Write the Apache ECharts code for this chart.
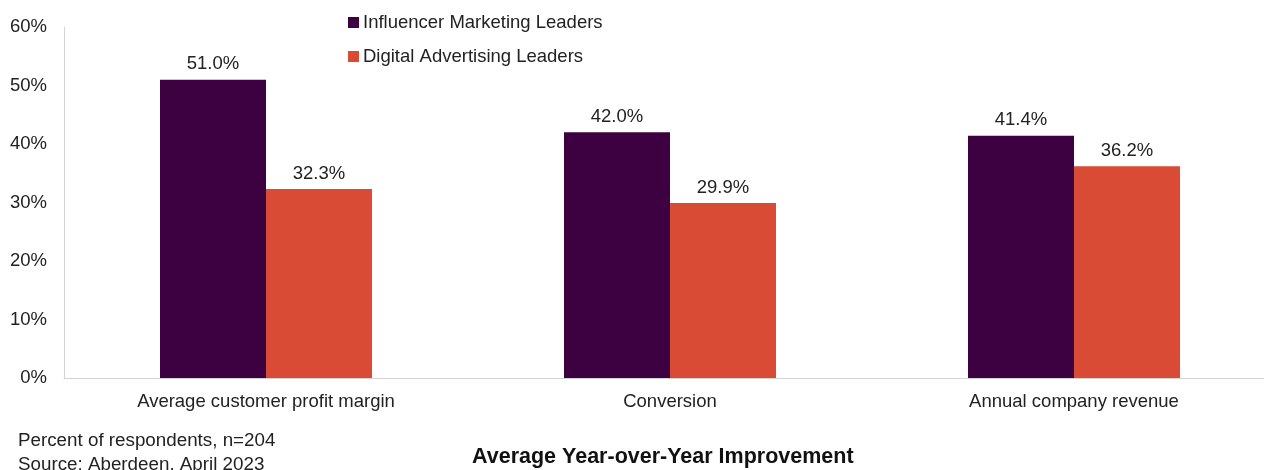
<!DOCTYPE html>
<html>
<head>
<meta charset="utf-8">
<script src="https://cdn.jsdelivr.net/npm/echarts@6/dist/echarts.min.js"></script>
<style>
  html, body { margin: 0; padding: 0; background: #fff; }
  #chart { width: 1264px; height: 470px; }
</style>
</head>
<body>
<div id="chart"></div>
<script>
// data
var categories = ['Average customer profit margin', 'Conversion', 'Annual company revenue']
var influencerData = [51.0, 42.0, 41.4]
var digitalData = [32.3, 29.9, 36.2]
var seriesNames = ['Influencer Marketing Leaders', 'Digital Advertising Leaders']

var myChart = echarts.init(document.getElementById('chart'))
var font = 'Liberation Sans, Arial, sans-serif'
var fs = 18.5

var option = {
    animation: false,
    textStyle: { fontFamily: font },
    legend: {
        orient: 'vertical',
        left: 343,
        top: 8,
        itemWidth: 11,
        itemHeight: 11,
        itemGap: 15,
        icon: 'rect',
        textStyle: { fontSize: fs, color: '#222', fontFamily: font, padding: [0, 0, 0, -1] },
        data: seriesNames,
    },
    graphic: [
        {
            type: 'text',
            left: 18,
            top: 431,
            style: { text: 'Percent of respondents, n=204', fontSize: 18.8, fill: '#222', fontFamily: font },
        },
        {
            type: 'text',
            left: 18,
            top: 455,
            style: { text: 'Source: Aberdeen, April 2023', fontSize: 18.8, fill: '#222', fontFamily: font },
        },
        {
            type: 'text',
            left: 472,
            top: 446,
            style: { text: 'Average Year-over-Year Improvement', fontSize: 21.5, fontWeight: 'bold', fill: '#111', fontFamily: font },
        },
    ],
    grid: {
        top: 27,
        left: 64,
        width: 1212,
        bottom: 92,
        outerBoundsMode: 'none',
        containLabel: false,
    },
    xAxis: {
        type: 'category',
        data: categories,
        axisTick: { show: false },
        axisLine: { lineStyle: { color: '#d4d4d4', width: 1 } },
        axisLabel: { fontSize: fs, color: '#222', margin: 14, fontFamily: font },
    },
    yAxis: {
        type: 'value',
        min: 0,
        max: 60,
        interval: 10,
        axisLine: { show: true, lineStyle: { color: '#d4d4d4', width: 1 } },
        axisTick: { show: false },
        splitLine: { show: false },
        axisLabel: {
            fontSize: fs,
            color: '#222',
            margin: 17,
            fontFamily: font,
            formatter: '{value}%',
        },
    },
    series: [
        {
            name: seriesNames[0],
            type: 'bar',
            barWidth: 106,
            barGap: '0%',
            itemStyle: { color: '#3d0040' },
            label: {
                show: true,
                position: 'top',
                distance: 6,
                fontSize: fs,
                color: '#222',
                fontFamily: font,
                formatter: function(p) { return p.value.toFixed(1) + '%' },
            },
            data: influencerData,
        },
        {
            name: seriesNames[1],
            type: 'bar',
            barWidth: 106,
            barGap: '0%',
            itemStyle: { color: '#d94b35' },
            label: {
                show: true,
                position: 'top',
                distance: 6,
                fontSize: fs,
                color: '#222',
                fontFamily: font,
                formatter: function(p) { return p.value.toFixed(1) + '%' },
            },
            data: digitalData,
        },
    ],
}
myChart.setOption(option)
</script>
</body>
</html>
